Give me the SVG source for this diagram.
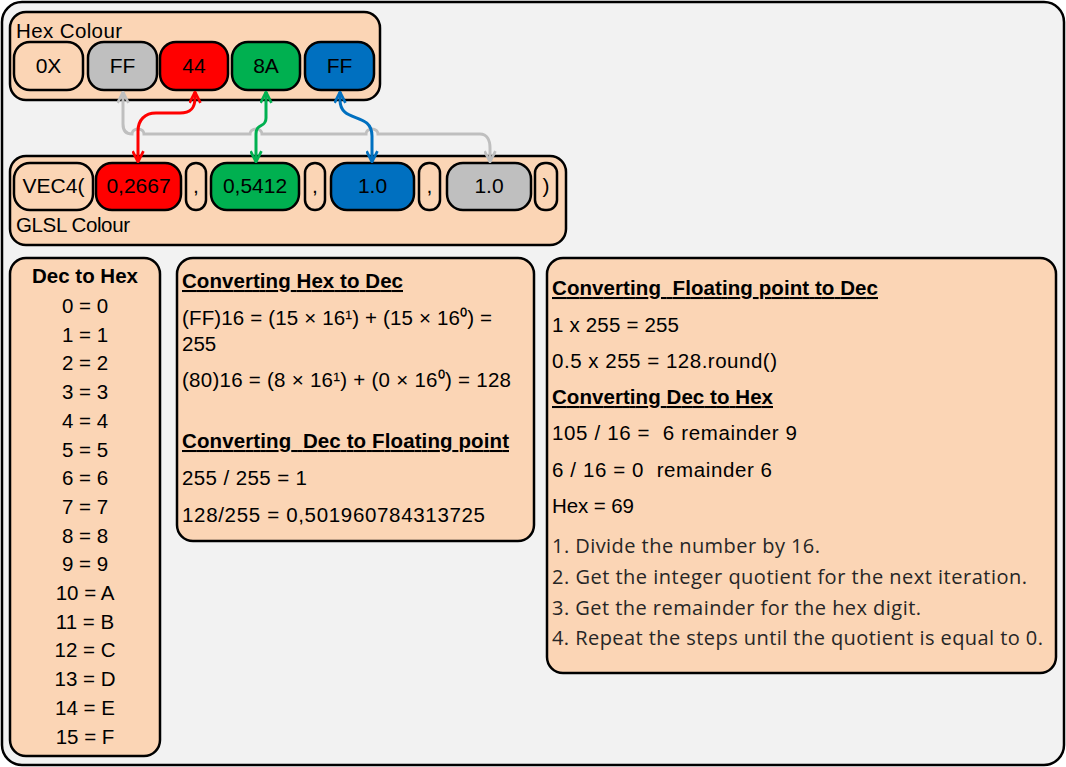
<svg xmlns="http://www.w3.org/2000/svg" width="1066" height="767" viewBox="0 0 1066 767">
<style>
.panel{fill:#fbd5b5;stroke:#000;stroke-width:2.5}
.pill{stroke:#000;stroke-width:2.5}
.t{font-family:"Liberation Sans",Arial,sans-serif;font-size:20.5px;fill:#000;white-space:pre}
.p{font-size:21px}
.c{text-anchor:middle}
.b{font-weight:bold;text-decoration:underline}
.li{font-family:"Open Sans","Liberation Sans",sans-serif;font-size:20px;fill:#262626;white-space:pre}
.con{fill:none;stroke-width:3}
</style>
<defs>
<marker id="aG" viewBox="0 0 12 12" refX="11" refY="6" markerWidth="13" markerHeight="13" markerUnits="userSpaceOnUse" orient="auto-start-reverse"><path d="M1,1 L11,6 L1,11" fill="none" stroke="#bfbfbf" stroke-width="2.5"/></marker>
<marker id="aR" viewBox="0 0 12 12" refX="11" refY="6" markerWidth="13" markerHeight="13" markerUnits="userSpaceOnUse" orient="auto-start-reverse"><path d="M1,1 L11,6 L1,11" fill="none" stroke="#ff0000" stroke-width="2.5"/></marker>
<marker id="aN" viewBox="0 0 12 12" refX="11" refY="6" markerWidth="13" markerHeight="13" markerUnits="userSpaceOnUse" orient="auto-start-reverse"><path d="M1,1 L11,6 L1,11" fill="none" stroke="#00b050" stroke-width="2.5"/></marker>
<marker id="aB" viewBox="0 0 12 12" refX="11" refY="6" markerWidth="13" markerHeight="13" markerUnits="userSpaceOnUse" orient="auto-start-reverse"><path d="M1,1 L11,6 L1,11" fill="none" stroke="#0070c0" stroke-width="2.5"/></marker>
</defs>
<rect id="frame" x="2" y="2" width="1062" height="763" rx="20" fill="#f2f2f2" stroke="#000" stroke-width="2.5"/>

<g id="hex-colour">
<rect class="panel" x="10" y="12" width="370" height="88" rx="16"/>
<text class="t" x="16" y="38" textLength="106" lengthAdjust="spacing">Hex Colour</text>
</g>
<g id="hex-0x"><rect class="pill" x="14" y="42" width="69" height="48" rx="16" fill="#fbd5b5"/><text class="t p c" x="48.5" y="73">0X</text></g>
<g id="hex-ff-alpha"><rect class="pill" x="88" y="42" width="69" height="48" rx="16" fill="#bfbfbf"/><text class="t p c" x="122.5" y="73">FF</text></g>
<g id="hex-44"><rect class="pill" x="160" y="42" width="68" height="48" rx="16" fill="#ff0000"/><text class="t p c" x="194" y="73">44</text></g>
<g id="hex-8a"><rect class="pill" x="232" y="42" width="68" height="48" rx="16" fill="#00b050"/><text class="t p c" x="266" y="73">8A</text></g>
<g id="hex-ff-blue"><rect class="pill" x="305" y="42" width="69" height="48" rx="16" fill="#0070c0"/><text class="t p c" x="339.5" y="73">FF</text></g>

<g id="glsl-colour">
<rect class="panel" x="10" y="156" width="556" height="89" rx="16"/>
<text class="t" x="16" y="232" textLength="114" lengthAdjust="spacing">GLSL Colour</text>
</g>
<g id="glsl-vec4"><rect class="pill" x="14" y="163" width="79" height="47" rx="16" fill="#fbd5b5"/><text class="t p c" x="53.5" y="193">VEC4(</text></g>
<g id="glsl-r"><rect class="pill" x="96" y="163" width="85" height="47" rx="16" fill="#ff0000"/><text class="t p c" x="138.5" y="193">0,2667</text></g>
<g id="glsl-comma1"><rect class="pill" x="186" y="163" width="20" height="47" rx="10" fill="#fbd5b5"/><text class="t p c" x="196" y="193">,</text></g>
<g id="glsl-g"><rect class="pill" x="211" y="163" width="88" height="47" rx="16" fill="#00b050"/><text class="t p c" x="255" y="193">0,5412</text></g>
<g id="glsl-comma2"><rect class="pill" x="305" y="163" width="20" height="47" rx="10" fill="#fbd5b5"/><text class="t p c" x="315" y="193">,</text></g>
<g id="glsl-b"><rect class="pill" x="331" y="163" width="83" height="47" rx="16" fill="#0070c0"/><text class="t p c" x="372.5" y="193">1.0</text></g>
<g id="glsl-comma3"><rect class="pill" x="419" y="163" width="21" height="47" rx="10" fill="#fbd5b5"/><text class="t p c" x="429.5" y="193">,</text></g>
<g id="glsl-a"><rect class="pill" x="447" y="163" width="84" height="47" rx="16" fill="#bfbfbf"/><text class="t p c" x="489" y="193">1.0</text></g>
<g id="glsl-close"><rect class="pill" x="535" y="163" width="22" height="47" rx="10" fill="#fbd5b5"/><text class="t p c" x="546" y="193">)</text></g>

<g id="connectors">
<path class="con" stroke="#bfbfbf" marker-start="url(#aG)" marker-end="url(#aG)" d="M123,92 L123,124 C123,132 127,134 132,134 a6,5 0 0 1 12,0 L250,134 a6,5 0 0 1 12,0 L366,134 a6,5 0 0 1 12,0 L480,134 C487,134 490,140 490,148 L490,162"/>
<path class="con" stroke="#ff0000" marker-start="url(#aR)" marker-end="url(#aR)" d="M195,92 L195,98 C195,109 190,113 180,113 L156,113 C145,113 138,120 138,131 L138,162"/>
<path class="con" stroke="#00b050" marker-start="url(#aN)" marker-end="url(#aN)" d="M266,92 L266,118 C266,128 256,123 256,134 L256,162"/>
<path class="con" stroke="#0070c0" marker-start="url(#aB)" marker-end="url(#aB)" d="M340,92 L340,100 C340,124 372,111 372,136 L372,162"/>
</g>

<g id="dec-to-hex">
<rect class="panel" x="10" y="258" width="150" height="498" rx="16"/>
<text class="t c" x="85" y="283" font-weight="bold">Dec to Hex</text>
<text class="t c" x="85" y="313">0 = 0</text>
<text class="t c" x="85" y="341.7">1 = 1</text>
<text class="t c" x="85" y="370.4">2 = 2</text>
<text class="t c" x="85" y="399.1">3 = 3</text>
<text class="t c" x="85" y="427.8">4 = 4</text>
<text class="t c" x="85" y="456.5">5 = 5</text>
<text class="t c" x="85" y="485.2">6 = 6</text>
<text class="t c" x="85" y="513.9">7 = 7</text>
<text class="t c" x="85" y="542.6">8 = 8</text>
<text class="t c" x="85" y="571.3">9 = 9</text>
<text class="t c" x="85" y="600">10 = A</text>
<text class="t c" x="85" y="628.7">11 = B</text>
<text class="t c" x="85" y="657.4">12 = C</text>
<text class="t c" x="85" y="686.1">13 = D</text>
<text class="t c" x="85" y="714.8">14 = E</text>
<text class="t c" x="85" y="743.5">15 = F</text>
</g>

<g id="hex-to-dec">
<rect class="panel" x="177" y="258" width="357" height="283" rx="16"/>
<text class="t b" x="182" y="288" textLength="221" lengthAdjust="spacing">Converting Hex to Dec</text>
<text class="t" x="182" y="325" textLength="310" lengthAdjust="spacing">(FF)16 = (15 × 16¹) + (15 × 16⁰) =</text>
<text class="t" x="182" y="351">255</text>
<text class="t" x="182" y="387" textLength="329" lengthAdjust="spacing">(80)16 = (8 × 16¹) + (0 × 16⁰) = 128</text>
<text class="t b" x="182" y="448" textLength="327" lengthAdjust="spacing">Converting  Dec to Floating point</text>
<text class="t" x="182" y="485" textLength="125" lengthAdjust="spacing">255 / 255 = 1</text>
<text class="t" x="182" y="522" textLength="303" lengthAdjust="spacing">128/255 = 0,501960784313725</text>
</g>

<g id="float-to-dec">
<rect class="panel" x="547" y="258" width="509" height="415" rx="16"/>
<text class="t b" x="552" y="295" textLength="326" lengthAdjust="spacing">Converting  Floating point to Dec</text>
<text class="t" x="552" y="332" textLength="127" lengthAdjust="spacing">1 x 255 = 255</text>
<text class="t" x="552" y="368" textLength="225" lengthAdjust="spacing">0.5 x 255 = 128.round()</text>
<text class="t b" x="552" y="404" textLength="221" lengthAdjust="spacing">Converting Dec to Hex</text>
<text class="t" x="552" y="440" textLength="245" lengthAdjust="spacing">105 / 16 =  6 remainder 9</text>
<text class="t" x="552" y="477" textLength="220" lengthAdjust="spacing">6 / 16 = 0  remainder 6</text>
<text class="t" x="552" y="513" textLength="82" lengthAdjust="spacing">Hex = 69</text>
<text class="li" x="552" y="553" textLength="268" lengthAdjust="spacing">1. Divide the number by 16.</text>
<text class="li" x="552" y="584" textLength="475" lengthAdjust="spacing">2. Get the integer quotient for the next iteration.</text>
<text class="li" x="552" y="615" textLength="369" lengthAdjust="spacing">3. Get the remainder for the hex digit.</text>
<text class="li" x="552" y="645" textLength="491" lengthAdjust="spacing">4. Repeat the steps until the quotient is equal to 0.</text>
</g>
</svg>
